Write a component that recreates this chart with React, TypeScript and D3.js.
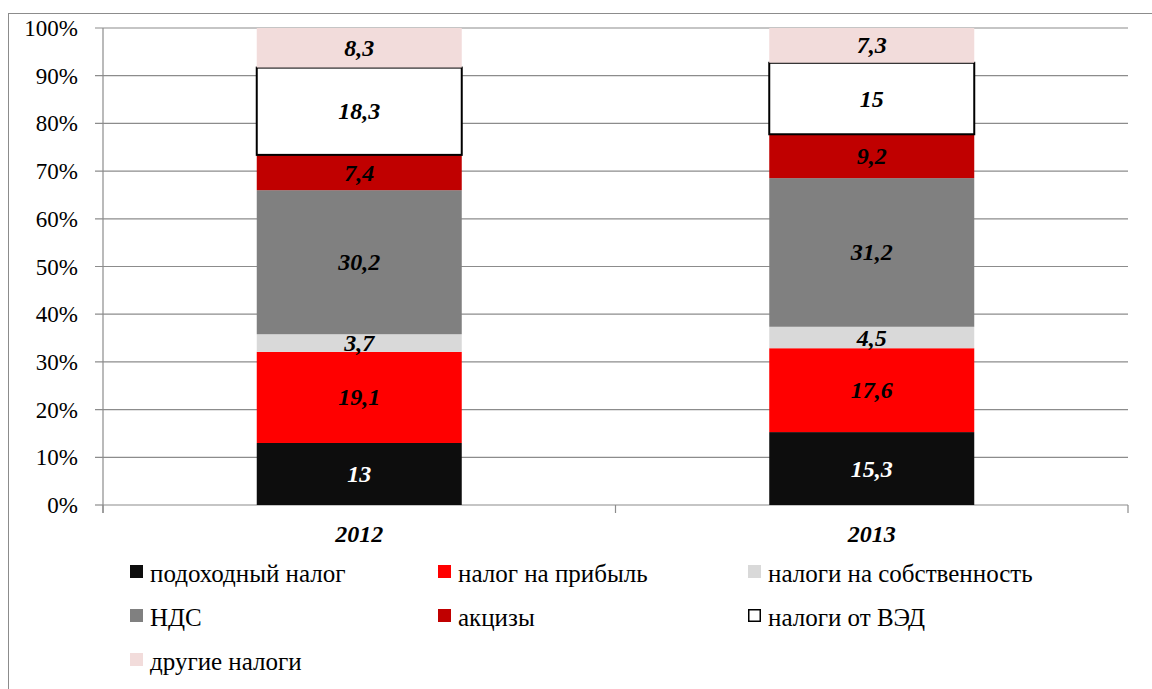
import React from "react";
import * as d3 from "d3";

const years = ["2012", "2013"];
const seriesNames = [
  "подоходный налог",
  "налог на прибыль",
  "налоги на собственность",
  "НДС",
  "акцизы",
  "налоги от ВЭД",
  "другие налоги",
];
const values2012 = [13, 19.1, 3.7, 30.2, 7.4, 18.3, 8.3];
const values2013 = [15.3, 17.6, 4.5, 31.2, 9.2, 15, 7.3];
const colors = ["#0d0d0d", "#ff0000", "#d9d9d9", "#808080", "#c00000", "#ffffff", "#f2dcdb"];
const labelColors = ["#ffffff", "#000000", "#000000", "#000000", "#000000", "#000000", "#000000"];
const yTicks = [0, 0.1, 0.2, 0.3, 0.4, 0.5, 0.6, 0.7, 0.8, 0.9, 1];

const fmt = (v: number) => String(v).replace(".", ",");

export default function App() {
  const W = 1152, H = 689;
  const left = 103, right = 1128, top = 28, bottom = 505;
  const x = d3.scaleBand().domain(years).range([left, right]).paddingInner(0.6).paddingOuter(0.3);
  const y = d3.scaleLinear().domain([0, 1]).range([bottom, top]);
  const data = [values2012, values2013];
  const gridColor = "#8c8c8c";
  const ts = { fontFamily: "'Liberation Serif', 'Times New Roman', 'DejaVu Serif', serif" };

  const legendCols = [130, 438, 748];
  const legendRows = [565, 609, 653];

  return (
    <svg width={W} height={H} style={{ position: "absolute", left: 0, top: 0, ...ts }}>
      <rect x={8.5} y={13.5} width={W} height={H} fill="#fff" stroke="#8c8c8c" strokeWidth={1} />
      {yTicks.map((t) => (
        <g key={t}>
          <line x1={95} x2={t === 0 ? left : right} y1={y(t)} y2={y(t)} stroke={gridColor} strokeWidth={1.2} />
          <text x={78} y={y(t) + 8} textAnchor="end" fontSize={23} fill="#000" style={ts}>
            {Math.round(t * 100)}%
          </text>
        </g>
      ))}
      <line x1={left} x2={left} y1={top} y2={bottom + 8} stroke={gridColor} strokeWidth={1.2} />
      <line x1={left} x2={right} y1={bottom} y2={bottom} stroke={gridColor} strokeWidth={1.2} />
      {[left, (left + right) / 2, right].map((px, i) => (
        <line key={i} x1={px} x2={px} y1={bottom} y2={bottom + 8} stroke={gridColor} strokeWidth={1.2} />
      ))}
      {data.map((vals, ci) => {
        const total = d3.sum(vals);
        let acc = 0;
        const bx = x(years[ci])!;
        const bw = x.bandwidth();
        return (
          <g key={ci}>
            {vals.map((v, si) => {
              const y0 = y(acc / total);
              acc += v;
              const y1 = y(acc / total);
              return (
                <rect
                  key={si}
                  x={bx}
                  y={y1}
                  width={bw}
                  height={y0 - y1}
                  fill={colors[si]}
                  stroke={si === 5 ? "#000" : "none"}
                  strokeWidth={si === 5 ? 2 : 0}
                />
              );
            })}
          </g>
        );
      })}
      {data.map((vals, ci) => {
        const total = d3.sum(vals);
        let acc = 0;
        const cx = x(years[ci])! + x.bandwidth() / 2;
        return (
          <g key={"l" + ci}>
            {vals.map((v, si) => {
              const y0 = y(acc / total);
              acc += v;
              const y1 = y(acc / total);
              const mid = (y0 + y1) / 2;
              return (
                <text
                  key={si}
                  x={cx}
                  y={mid + 8}
                  textAnchor="middle"
                  fontSize={24}
                  fontWeight="bold"
                  fontStyle="italic"
                  fill={labelColors[si]}
                  style={ts}
                >
                  {fmt(v)}
                </text>
              );
            })}
            <text
              x={cx}
              y={542}
              textAnchor="middle"
              fontSize={24}
              fontWeight="bold"
              fontStyle="italic"
              fill="#000"
              style={ts}
            >
              {years[ci]}
            </text>
          </g>
        );
      })}
      {seriesNames.map((name, i) => {
        const col = i % 3;
        const row = Math.floor(i / 3);
        const lx = legendCols[col];
        const ly = legendRows[row];
        return (
          <g key={name}>
            {i === 5 ? (
              <rect x={lx + 0.75} y={ly + 0.75} width={11.5} height={11.5} fill="#fff" stroke="#000" strokeWidth={1.5} />
            ) : (
              <rect x={lx} y={ly} width={13} height={13} fill={colors[i]} />
            )}
            <text x={lx + 20} y={ly + 17} fontSize={25} fill="#000" style={ts}>
              {name}
            </text>
          </g>
        );
      })}
    </svg>
  );
}
